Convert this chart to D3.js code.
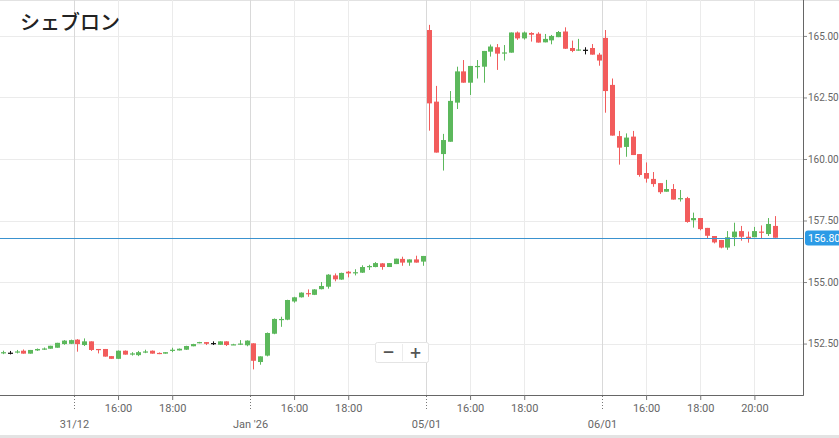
<!DOCTYPE html>
<html><head><meta charset="utf-8">
<script src="https://cdn.jsdelivr.net/npm/d3@7"></script>
<style>body{margin:0;background:#fff;overflow:hidden}svg{display:block}</style>
</head><body>
<svg id="c" width="839" height="438"></svg>
<script>
// ---------- data ----------
const title = "シェブロン";
const dayLabels = ["30/12", "31/12", "Jan '26", "05/01", "06/01"];
const slotsPerDay = 26;            // 15-minute candles per session
const firstSlot30 = 15;            // first visible candle of 30/12
// [open, high, low, close]
const d1230 = [
  [152.10,152.21,152.07,152.15],[152.13,152.20,152.06,152.13],[152.14,152.24,152.10,152.18],
  [152.21,152.26,152.09,152.09],[152.09,152.24,152.09,152.24],[152.22,152.30,152.20,152.28],
  [152.28,152.34,152.24,152.30],[152.29,152.41,152.29,152.41],[152.33,152.53,152.33,152.53],
  [152.48,152.64,152.45,152.62],[152.49,152.66,152.48,152.64]
];
const d1231 = [
  [152.66,152.68,152.17,152.48],[152.44,152.71,152.40,152.59],[152.59,152.59,152.20,152.24],
  [152.28,152.28,152.10,152.26],[152.28,152.28,151.97,151.97],[151.99,151.99,151.88,151.88],
  [151.88,152.22,151.87,152.21],[152.21,152.22,152.05,152.05],[152.08,152.15,152.01,152.10],
  [152.03,152.20,151.99,152.15],[152.16,152.25,152.11,152.18],[152.21,152.22,152.09,152.09],
  [152.12,152.14,152.07,152.10],[152.09,152.15,152.09,152.15],[152.23,152.33,152.15,152.25],
  [152.22,152.30,152.22,152.29],[152.25,152.41,152.24,152.40],[152.39,152.49,152.39,152.48],
  [152.52,152.57,152.51,152.56],[152.56,152.56,152.44,152.49],[152.52,152.59,152.44,152.52],
  [152.45,152.59,152.45,152.59],[152.59,152.59,152.40,152.44],[152.45,152.49,152.44,152.47],
  [152.48,152.64,152.44,152.50],[152.43,152.63,152.39,152.62]
];
const d0102 = [
  [152.51,152.51,151.45,151.80],[151.75,151.98,151.64,151.98],[152.01,152.95,151.98,152.93],
  [152.90,153.52,152.88,153.50],[153.47,153.59,153.18,153.50],[153.47,154.28,153.45,154.27],
  [154.21,154.40,154.16,154.38],[154.38,154.58,154.37,154.57],[154.55,154.70,154.40,154.51],
  [154.48,154.71,154.47,154.70],[154.71,155.00,154.70,154.84],[154.81,155.32,154.73,155.30],
  [155.27,155.35,155.03,155.11],[155.10,155.38,155.09,155.37],[155.42,155.45,155.19,155.35],
  [155.38,155.52,155.27,155.40],[155.38,155.68,155.37,155.61],[155.63,155.70,155.49,155.65],
  [155.61,155.81,155.60,155.77],[155.76,155.77,155.50,155.61],[155.61,155.77,155.61,155.77],
  [155.73,155.95,155.73,155.95],[155.94,156.03,155.66,155.79],[155.79,155.92,155.66,155.92],
  [155.92,156.07,155.79,155.79],[155.83,156.06,155.66,156.06]
];
const d0105 = [
  [165.24,165.45,161.15,162.26],[162.33,162.97,160.26,160.26],[160.20,161.02,159.53,160.77],
  [160.70,162.76,160.70,162.36],[162.29,163.75,162.03,163.56],[163.56,164.02,163.10,163.10],
  [163.10,163.78,162.60,163.78],[163.76,164.02,163.27,163.78],[163.75,164.39,163.10,164.39],
  [164.36,164.65,164.16,164.57],[164.54,164.67,163.62,164.28],[164.31,164.63,164.00,164.33],
  [164.32,165.14,164.32,165.14],[165.14,165.18,164.84,164.90],[164.90,165.18,164.85,165.14],
  [165.12,165.15,164.77,165.05],[165.09,165.15,164.73,164.73],[164.74,165.08,164.74,164.88],
  [164.82,165.04,164.66,165.00],[164.95,165.20,164.95,165.16],[165.18,165.35,164.47,164.48],
  [164.51,164.81,164.34,164.39],[164.43,164.88,164.40,164.45],[164.44,164.54,164.25,164.44],
  [164.51,164.67,164.24,164.24],[164.24,164.31,163.79,164.00]
];
const d0106 = [
  [164.92,165.24,161.88,162.76],[163.01,163.27,160.95,160.95],[160.93,161.14,159.77,160.46],
  [160.49,161.04,160.09,160.87],[160.91,161.14,160.16,160.16],[160.20,160.20,159.28,159.35],
  [159.43,159.86,159.04,159.20],[159.19,159.47,158.87,158.98],[159.02,159.02,158.58,158.65],
  [158.67,159.15,158.67,158.78],[158.78,158.98,158.35,158.35],[158.39,158.74,158.27,158.41],
  [158.41,158.46,157.41,157.44],[157.51,157.82,157.21,157.60],[157.60,157.60,157.10,157.15],
  [157.20,157.20,156.77,156.88],[156.87,156.87,156.57,156.61],[156.71,156.71,156.37,156.40],
  [156.40,157.07,156.31,156.82],[156.82,157.41,156.46,157.05],[157.07,157.28,156.68,156.84],
  [156.84,157.05,156.60,156.80],[156.82,157.24,156.82,157.07],[157.05,157.30,156.75,157.01],
  [156.95,157.60,156.87,157.36],[157.28,157.68,156.80,156.80]
];
const priceTicks = [152.5, 155, 157.5, 160, 162.5, 165];
const hourTickDays  = [1, 1, 2, 2, 3, 3, 4, 4, 4];
const hourTickSlots = [6, 14, 6, 14, 6, 14, 6, 14, 22];
const hourTickLabels = ["16:00","18:00","16:00","18:00","16:00","18:00","16:00","18:00","20:00"];
const dateTickDays = [1, 2, 3, 4];
const lastPrice = 156.80;

// ---------- build ----------
const W = 839, H = 438, PR = 803, PB = 395;
const candles = [];
[[d1230, 0, firstSlot30], [d1231, 1, 0], [d0102, 2, 0], [d0105, 3, 0], [d0106, 4, 0]].forEach(([arr, day, s0]) => {
  arr.forEach((v, i) => candles.push({g: day * slotsPerDay + s0 + i, o: v[0], h: v[1], l: v[2], c: v[3]}));
});

const x = d3.scaleLinear().domain([14.56, 133.18]).range([0, PR]);
const y = d3.scaleLinear().domain([150.41, 166.46]).range([PB, 0]);

const svg = d3.select("#c");
svg.append("rect").attr("width", W).attr("height", H).attr("fill", "#fff");

// frame bits
svg.append("rect").attr("x", 0).attr("y", 0).attr("width", W).attr("height", 1).attr("fill", "#e2e2e2");
svg.append("rect").attr("x", 0).attr("y", 435).attr("width", W).attr("height", 3).attr("fill", "#e3e3e3");

// grid
const grid = svg.append("g");
grid.selectAll("line.h").data(priceTicks).join("line")
  .attr("x1", 0).attr("x2", PR).attr("y1", d => Math.round(y(d)) + 0.5).attr("y2", d => Math.round(y(d)) + 0.5)
  .attr("stroke", "#ebebeb");
grid.selectAll("line.vh").data(hourTickDays.map((d, i) => d * slotsPerDay + hourTickSlots[i])).join("line")
  .attr("x1", d => Math.round(x(d)) + 0.5).attr("x2", d => Math.round(x(d)) + 0.5).attr("y1", 0).attr("y2", PB)
  .attr("stroke", "#ebebeb");
grid.selectAll("line.vd").data(dateTickDays.map(d => d * slotsPerDay - 0.5)).join("line")
  .attr("x1", d => Math.round(x(d)) + 0.5).attr("x2", d => Math.round(x(d)) + 0.5).attr("y1", 0).attr("y2", PB)
  .attr("stroke", "#d9d9d9");

// title
svg.append("text").attr("x", 20).attr("y", 30).text(title)
  .attr("font-family", "'Noto Sans CJK JP', sans-serif").attr("font-size", 20).attr("font-weight", 500)
  .attr("fill", "#222");

// candles
const G = "#5cb85c", R = "#f25c5c";
const col = d => d.c > d.o ? G : (d.c < d.o ? R : "#111");
svg.append("defs").append("clipPath").attr("id", "clip").append("rect").attr("width", PR).attr("height", PB);
const cg = svg.append("g").attr("clip-path", "url(#clip)");
const bw = 5;
cg.selectAll("line.w").data(candles).join("line")
  .attr("x1", d => Math.round(x(d.g)) + 0.5).attr("x2", d => Math.round(x(d.g)) + 0.5)
  .attr("y1", d => y(d.h)).attr("y2", d => y(d.l)).attr("stroke", col).attr("stroke-width", 1);
cg.selectAll("rect.b").data(candles).join("rect")
  .attr("x", d => Math.round(x(d.g)) - 2)
  .attr("width", bw)
  .attr("y", d => y(Math.max(d.o, d.c)))
  .attr("height", d => Math.max(1.2, Math.abs(y(d.o) - y(d.c))))
  .attr("fill", col);

// last price line
svg.append("line").attr("x1", 0).attr("x2", PR).attr("y1", Math.round(y(lastPrice)) + 0.5).attr("y2", Math.round(y(lastPrice)) + 0.5)
  .attr("stroke", "#3a92cf").attr("stroke-width", 1);

// axes
const ya = svg.append("g").attr("transform", `translate(${PR},0)`)
  .call(d3.axisRight(y).tickValues(priceTicks).tickFormat(d3.format(".2f")).tickSize(4).tickPadding(1).tickSizeOuter(0));
ya.select(".domain").attr("stroke", "#666");
ya.selectAll(".tick line").attr("stroke", "#888");
ya.selectAll("text").attr("font-family", "Roboto, sans-serif").attr("font-size", 10).attr("fill", "#666");

svg.append("line").attr("x1", 0).attr("x2", PR + 0.5).attr("y1", PB + 0.5).attr("y2", PB + 0.5).attr("stroke", "#666");
svg.append("line").attr("x1", PR + 0.5).attr("x2", PR + 0.5).attr("y1", 0).attr("y2", PB + 0.5).attr("stroke", "#666");

const xa = svg.append("g").attr("transform", `translate(0,${PB})`)
  .call(d3.axisBottom(x).tickValues(hourTickDays.map((d, i) => d * slotsPerDay + hourTickSlots[i]))
    .tickFormat((d, i) => hourTickLabels[i]).tickSize(5).tickPadding(4).tickSizeOuter(0));
xa.select(".domain").remove();
xa.selectAll(".tick line").attr("stroke", "#777");
xa.selectAll("text").attr("font-family", "Roboto, sans-serif").attr("font-size", 11).attr("fill", "#666");

const dt = svg.append("g").selectAll("g").data(dateTickDays).join("g")
  .attr("transform", d => `translate(${Math.round(x(d * slotsPerDay - 0.5)) + 0.5},${PB})`);
dt.append("line").attr("y1", 1).attr("y2", 16).attr("stroke", "#777").attr("stroke-dasharray", "1,2");
dt.append("text").attr("y", 33).attr("text-anchor", "middle").text(d => dayLabels[d])
  .attr("font-family", "Roboto, sans-serif").attr("font-size", 11).attr("fill", "#666");

// last price label
const lp = svg.append("g").attr("transform", `translate(805,${Math.round(y(lastPrice))})`);
lp.append("rect").attr("x", 0).attr("y", -7.5).attr("width", 40).attr("height", 15).attr("rx", 3).attr("fill", "#2c9be6");
lp.append("text").attr("x", 3).attr("y", 4).text(d3.format(".2f")(lastPrice))
  .attr("font-family", "Roboto, sans-serif").attr("font-size", 10.5).attr("fill", "#fff");

// zoom buttons
const zb = svg.append("g").attr("transform", "translate(375,342)");
zb.append("rect").attr("x", 0.5).attr("y", 0.5).attr("width", 53).attr("height", 20).attr("rx", 2)
  .attr("fill", "#fff").attr("stroke", "#e4e4e4");
zb.append("line").attr("x1", 27.5).attr("x2", 27.5).attr("y1", 2).attr("y2", 19).attr("stroke", "#ececec");
zb.append("text").attr("x", 13.5).attr("y", 15).attr("text-anchor", "middle").text("−")
  .attr("font-family", "DejaVu Sans, sans-serif").attr("font-size", 15).attr("font-weight", 700).attr("fill", "#555");
zb.append("text").attr("x", 40.5).attr("y", 15.5).attr("text-anchor", "middle").text("+")
  .attr("font-family", "DejaVu Sans, sans-serif").attr("font-size", 15).attr("font-weight", 700).attr("fill", "#555");
</script>
</body></html>
